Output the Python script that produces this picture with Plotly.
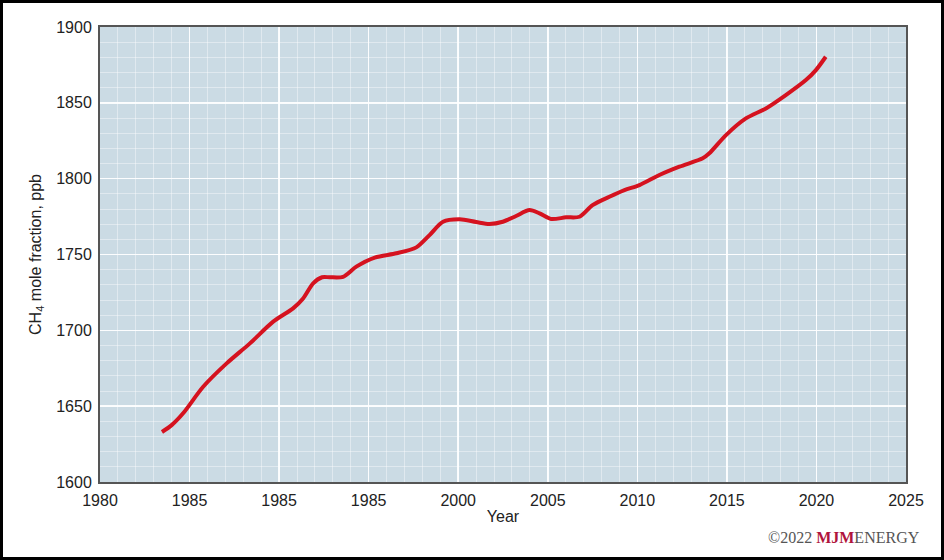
import plotly.graph_objects as go

years = [1983.46, 1984.0, 1984.64, 1985.76, 1987.07, 1988.37, 1989.67, 1990.78, 1991.34, 1991.9,
         1992.4, 1992.83, 1993.57, 1994.31, 1995.34, 1996.55, 1997.66, 1998.4, 1999.15, 2000.08,
         2001.0, 2001.75, 2002.49, 2003.23, 2003.98, 2004.54, 2005.19, 2006.02, 2006.77, 2007.5,
         2008.44, 2009.28, 2010.12, 2011.23, 2012.35, 2013.65, 2014.02, 2014.95, 2016.06, 2017.18,
         2018.29, 2019.41, 2019.97, 2020.52]
ch4 = [1633.0, 1637.5, 1645.3, 1662.8, 1678.2, 1691.4, 1705.7, 1714.5, 1721.0, 1731.0,
       1735.0, 1735.0, 1735.3, 1742.0, 1748.0, 1750.8, 1754.7, 1762.8, 1771.6, 1773.2,
       1771.4, 1770.1, 1771.6, 1775.4, 1779.3, 1777.1, 1773.4, 1774.5, 1774.9, 1782.6,
       1788.1, 1792.5, 1795.8, 1802.4, 1807.9, 1813.4, 1816.7, 1828.7, 1839.7, 1846.3,
       1855.1, 1865.0, 1871.6, 1880.4]

x_tickvals = [1980, 1985, 1990, 1995, 2000, 2005, 2010, 2015, 2020, 2025]
x_ticktext = ["1980", "1985", "1985", "1985", "2000", "2005", "2010", "2015", "2020", "2025"]
y_tickvals = [1600, 1650, 1700, 1750, 1800, 1850, 1900]

W, H = 944, 560
ML, MR, MT, MB = 100, 38, 27, 78
PW, PH = W - ML - MR, H - MT - MB

fig = go.Figure()
fig.add_trace(go.Scatter(
    x=years, y=ch4, mode="lines",
    line=dict(color="#d5121f", width=4, shape="spline", smoothing=0.8),
    showlegend=False, hoverinfo="skip"))

font = dict(family="Liberation Sans, Arial, sans-serif", size=16, color="#222222")

fig.update_layout(
    width=W, height=H,
    margin=dict(l=ML, r=MR, t=MT, b=MB),
    paper_bgcolor="white",
    plot_bgcolor="#cbdbe4",
    font=font,
    xaxis=dict(
        range=[1980, 2025], tickmode="array", tickvals=x_tickvals, ticktext=x_ticktext,
        showgrid=True, gridcolor="rgba(255,255,255,0.9)", gridwidth=1.5,
        minor=dict(dtick=1, showgrid=True, gridcolor="rgba(255,255,255,0.4)", gridwidth=1),
        showline=True, linecolor="#555555", linewidth=2, mirror=True,
        ticks="outside", ticklen=3, tickcolor="rgba(0,0,0,0)",
        zeroline=False, fixedrange=True,
        title=dict(text="Year", standoff=3, font=dict(size=16)),
    ),
    yaxis=dict(
        range=[1600, 1900], tickmode="array", tickvals=y_tickvals,
        showgrid=True, gridcolor="rgba(255,255,255,0.9)", gridwidth=1.5,
        minor=dict(dtick=10, showgrid=True, gridcolor="rgba(255,255,255,0.4)", gridwidth=1),
        showline=True, linecolor="#555555", linewidth=2, mirror=True,
        ticks="outside", ticklen=3, tickcolor="rgba(0,0,0,0)",
        zeroline=False, fixedrange=True,
        title=dict(text="CH<sub>4</sub> mole fraction, ppb", standoff=11, font=dict(size=16)),
    ),
)

# outer black frame
fig.add_shape(type="rect", xref="paper", yref="paper",
              x0=(1.5 - ML) / PW, x1=(W - 1.5 - ML) / PW,
              y0=-(H - 1.5 - MT - PH) / PH, y1=(MT + PH - 1.5) / PH,
              line=dict(color="black", width=3), fillcolor="rgba(0,0,0,0)", layer="above")

fig.add_annotation(
    xref="paper", yref="paper",
    x=(922 - ML) / PW, y=-(537 - MT - PH) / PH,
    xanchor="right", yanchor="middle", showarrow=False,
    text="©2022 <span style='color:#b0143c'><b>MJM</b></span>ENERGY",
    font=dict(family="Liberation Serif, Times New Roman, serif", size=16, color="#555555"),
)

fig.write_html("out.html", config={"displayModeBar": False, "staticPlot": True},
               post_script="document.body.style.margin='0';document.body.style.overflow='hidden';")
